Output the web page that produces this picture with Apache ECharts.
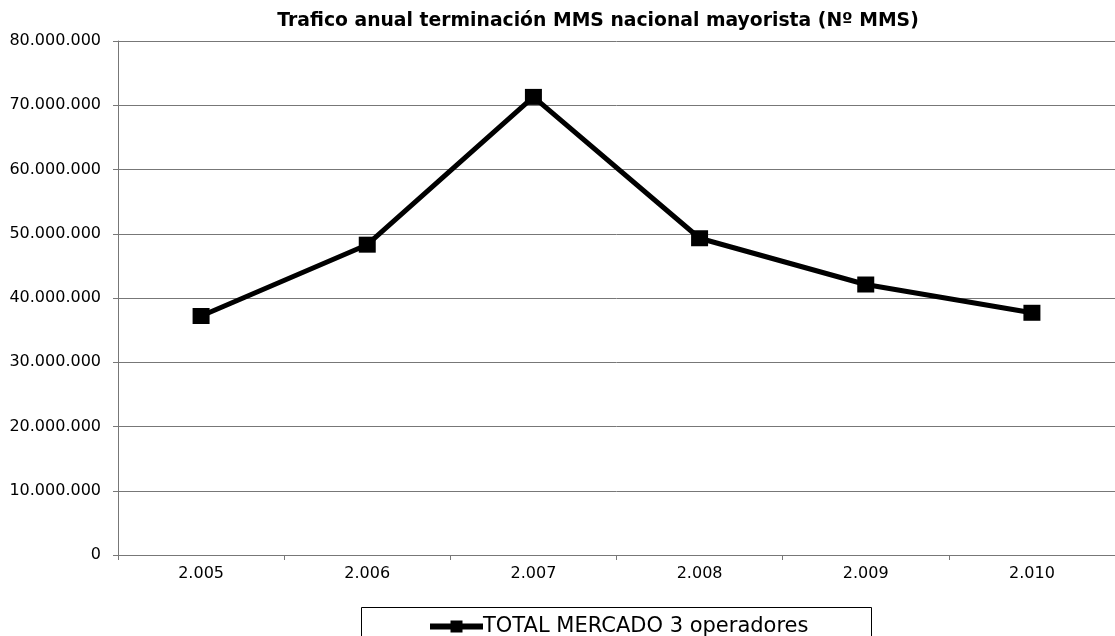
<!DOCTYPE html>
<html>
<head>
<meta charset="utf-8">
<script src="https://cdn.jsdelivr.net/npm/echarts@6/dist/echarts.min.js"></script>
<style>
html,body{margin:0;padding:0;background:#fff;}
#chart{width:1115px;height:636px;}
</style>
</head>
<body>
<div id="chart"></div>
<script>
const categories = ['2.005', '2.006', '2.007', '2.008', '2.009', '2.010'];
const seriesName = 'TOTAL MERCADO 3 operadores';
const totalMercado = [37200000, 48300000, 71300000, 49300000, 42100000, 37700000];
const titleText = 'Trafico anual terminación MMS nacional mayorista (Nº MMS)';

function fmt(v) {
  return String(Math.round(v)).replace(/\B(?=(\d{3})+(?!\d))/g, '.');
}

const FONT = 'DejaVu Sans, Liberation Sans, sans-serif';
const chart = echarts.init(document.getElementById('chart'), null, {renderer: 'canvas'});
chart.setOption({
  backgroundColor: '#ffffff',
  animation: false,
  textStyle: {fontFamily: FONT},
  title: {
    text: titleText,
    left: 593,
    top: 7,
    textAlign: 'center',
    textStyle: {fontSize: 18.8, fontWeight: 'bold', color: '#000', fontFamily: FONT}
  },
  grid: {left: 118, right: 0, top: 41, bottom: 81, containLabel: false},
  legend: {
    data: [seriesName],
    left: 427,
    top: 616,
    itemWidth: 53,
    itemHeight: 15,
    itemGap: 0,
    padding: 0,
    lineStyle: {width: 6, color: '#000'},
    itemStyle: {color: '#000'},
    textStyle: {fontSize: 21, color: '#000', padding: [0, 0, 0, -5], fontFamily: FONT}
  },
  graphic: [{
    type: 'rect',
    left: 359,
    top: 605,
    shape: {width: 510, height: 60},
    style: {fill: 'none', stroke: '#000', lineWidth: 1},
    silent: true
  }],
  xAxis: {
    type: 'category',
    data: categories,
    boundaryGap: true,
    axisLine: {lineStyle: {color: '#777', width: 1}},
    axisTick: {show: true, alignWithLabel: false, length: 5, lineStyle: {color: '#777'}},
    axisLabel: {fontSize: 16, color: '#000', margin: 11},
    splitLine: {show: false}
  },
  yAxis: {
    type: 'value',
    min: 0,
    max: 80000000,
    interval: 10000000,
    axisLine: {show: true, lineStyle: {color: '#777', width: 1}},
    axisTick: {show: true, length: 5, lineStyle: {color: '#777'}},
    axisLabel: {fontSize: 16, color: '#000', margin: 17, formatter: fmt},
    splitLine: {show: true, lineStyle: {color: '#777', width: 1}}
  },
  series: [{
    name: seriesName,
    type: 'line',
    data: totalMercado,
    symbol: 'rect',
    symbolSize: [17, 16],
    lineStyle: {color: '#000', width: 5},
    itemStyle: {color: '#000'}
  }]
});
</script>
</body>
</html>
